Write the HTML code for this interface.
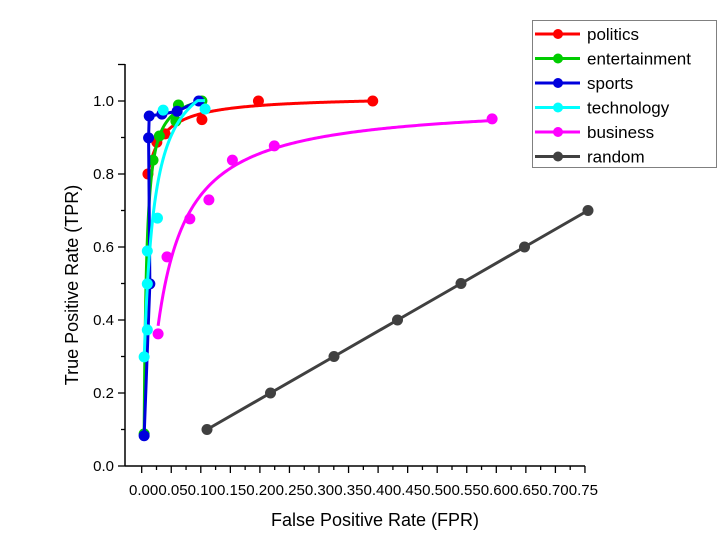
<!DOCTYPE html>
<html><head><meta charset="utf-8"><style>
html,body{margin:0;padding:0;background:#fff;width:720px;height:560px;overflow:hidden}
svg{display:block;font-family:"Liberation Sans",Arial,sans-serif}
</style></head><body>
<svg id="chart" width="720" height="560"></svg>
<script>
const seriesNames=["politics","entertainment","sports","technology","business","random"];
const seriesColors=["#ff0000","#00cc00","#0000dd","#00ffff","#ff00ff","#404040"];
const politicsX=[0.007,0.021,0.034,0.092,0.181,0.361];
const politicsY=[0.80,0.887,0.91,0.949,1.0,1.0];
const entertainmentX=[0.001,0.015,0.025,0.051,0.055,0.092];
const entertainmentY=[0.088,0.838,0.904,0.945,0.989,1.0];
const sportsX=[0.001,0.010,0.008,0.009,0.029,0.053,0.087];
const sportsY=[0.083,0.499,0.899,0.959,0.964,0.972,1.0];
const technologyX=[0.001,0.006,0.006,0.006,0.022,0.031,0.097];
const technologyY=[0.299,0.373,0.499,0.589,0.679,0.975,0.978];
const businessX=[0.023,0.037,0.073,0.103,0.14,0.206,0.549];
const businessY=[0.362,0.573,0.677,0.729,0.838,0.877,0.951];
const randomX=[0.1,0.2,0.3,0.4,0.5,0.6,0.7];
const randomY=[0.1,0.2,0.3,0.4,0.5,0.6,0.7];
const xTickLabels=["0.00","0.05","0.10","0.15","0.20","0.25","0.30","0.35","0.40","0.45","0.50","0.55","0.60","0.65","0.70","0.75"];
const yTickLabels=["0.0","0.2","0.4","0.6","0.8","1.0"];
const yTickValues=[0,0.2,0.4,0.6,0.8,1.0];

const NS="http://www.w3.org/2000/svg";
const svg=document.getElementById("chart");
const sx=x=>143.5+635*x;
const sy=y=>466-365*y;
function mk(tag,attrs,parent){const e=document.createElementNS(NS,tag);for(const k in attrs)e.setAttribute(k,attrs[k]);(parent||svg).appendChild(e);return e;}

const axes=mk("g",{});


mk("line",{x1:125,y1:466,x2:585,y2:466,stroke:"#000","stroke-width":1.5},axes);
mk("line",{x1:125,y1:64,x2:125,y2:466,stroke:"#000","stroke-width":1.5},axes);
for(let i=0;i<xTickLabels.length;i++){
  const px=141.7+i*29.55;
  mk("line",{x1:px,y1:466,x2:px,y2:473,stroke:"#000","stroke-width":1.3},axes);
  if(i<xTickLabels.length-1) mk("line",{x1:px+14.8,y1:466,x2:px+14.8,y2:470,stroke:"#000","stroke-width":1.3},axes);
}
const xl=mk("text",{x:129,y:495,"font-size":15,fill:"#000",textLength:469,lengthAdjust:"spacingAndGlyphs"},axes);
xl.textContent=xTickLabels.join("");


mk("line",{x1:118,y1:sy(1.1),x2:125,y2:sy(1.1),stroke:"#000","stroke-width":1.3},axes);
for(let i=0;i<yTickValues.length;i++){
  const py=sy(yTickValues[i]);
  mk("line",{x1:118,y1:py,x2:125,y2:py,stroke:"#000","stroke-width":1.3},axes);
  if(i<yTickValues.length-1) mk("line",{x1:121,y1:sy(yTickValues[i]+0.1),x2:125,y2:sy(yTickValues[i]+0.1),stroke:"#000","stroke-width":1.3},axes);
  const t=mk("text",{x:114,y:py+5,"font-size":15,"text-anchor":"end",fill:"#000"},axes);
  t.textContent=yTickLabels[i];
  
  
}
const xt=mk("text",{x:375,y:526,"font-size":18,"text-anchor":"middle"});
xt.textContent="False Positive Rate (FPR)";


const yt=mk("text",{x:0,y:0,"font-size":18,"text-anchor":"middle",transform:"translate(78,285) rotate(-90)"});
yt.textContent="True Positive Rate (TPR)";



function fitCurve(X,Y){
  let best=null;
  for(let c=0.001;c<0.3;c+=0.001){
    const u=X.map(x=>1/(x+c));const n=X.length;
    const mu=u.reduce((s,v)=>s+v,0)/n,my=Y.reduce((s,v)=>s+v,0)/n;
    let num=0,den=0;for(let i=0;i<n;i++){num+=(u[i]-mu)*(Y[i]-my);den+=(u[i]-mu)**2;}
    const b=-num/den,a=my+b*mu;
    let err=0;for(let i=0;i<n;i++){err+=(a-b*u[i]-Y[i])**2;}
    if(!best||err<best.err)best={a,b,c,err};
  }
  return x=>best.a-best.b/(x+best.c);
}
const allX=[politicsX,entertainmentX,sportsX,technologyX,businessX,randomX];
const allY=[politicsY,entertainmentY,sportsY,technologyY,businessY,randomY];
const fitted=[true,true,false,true,true,false];
for(let s=0;s<6;s++){
  const g=mk("g",{});
  
  
  const X=allX[s],Y=allY[s],col=seriesColors[s];
  let pts=[];
  if(fitted[s]){
    const f=fitCurve(X,Y);const x0=Math.min(...X),x1=Math.max(...X);
    for(let i=0;i<=200;i++){const x=x0+(x1-x0)*i/200;pts.push(sx(x).toFixed(2)+","+sy(Math.min(f(x),1.001)).toFixed(2));}
  } else {
    for(let i=0;i<X.length;i++)pts.push(sx(X[i])+","+sy(Y[i]));
  }
  const pl=mk("polyline",{points:pts.join(" "),fill:"none",stroke:col,"stroke-width":3,"stroke-linejoin":"round"},g);
  
  
  for(let i=0;i<X.length;i++){
    const c=mk("circle",{cx:sx(X[i]),cy:sy(Y[i]),r:5.5,fill:col},g);
    
    
  }
}
const lg=mk("g",{});


mk("rect",{x:532.5,y:20.5,width:184,height:147,fill:"#fff",stroke:"#808080","stroke-width":1},lg);
for(let s=0;s<6;s++){
  const y=34+s*24.5;
  const e=mk("g",{},lg);
  
  
  mk("line",{x1:535,y1:y,x2:580,y2:y,stroke:seriesColors[s],"stroke-width":3},e);
  mk("circle",{cx:558,cy:y,r:5,fill:seriesColors[s]},e);
  const t=mk("text",{x:587,y:y+6,"font-size":17,fill:"#000"},e);
  t.textContent=seriesNames[s];
}
</script>
</body></html>
